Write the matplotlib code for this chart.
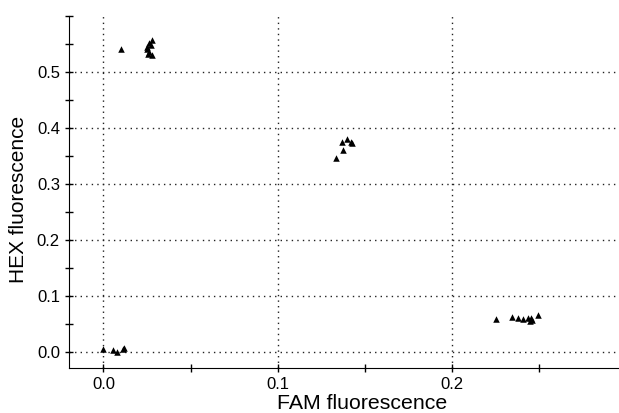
import matplotlib
matplotlib.use("Agg")
import matplotlib.pyplot as plt
from matplotlib.ticker import MultipleLocator

plt.rcParams['font.family'] = ['Liberation Sans', 'DejaVu Sans']

fam = [0.0103, 0.028, 0.026, 0.025, 0.0247, 0.0264, 0.0276, 0.0258, 0.0272,
       0.1397, 0.142, 0.1425, 0.1368, 0.1374, 0.1333,
       0.2253, 0.2345, 0.238, 0.241, 0.2437, 0.2454, 0.2448, 0.246, 0.2494,
       0.0, 0.0057, 0.0075, 0.011, 0.0115]
hex_ = [0.541, 0.557, 0.551, 0.545, 0.541, 0.536, 0.530, 0.533, 0.548,
        0.380, 0.375, 0.373, 0.375, 0.361, 0.346,
        0.059, 0.0625, 0.061, 0.059, 0.061, 0.061, 0.055, 0.057, 0.066,
        0.005, 0.0036, 0.0, 0.005, 0.007]

fig = plt.figure(figsize=(6.19, 4.13), dpi=100)
ax = fig.add_axes([69/619, 45/413, 1 - 69/619, (397 - 45)/413])
ax.scatter(fam, hex_, marker='^', s=22, color='black', zorder=3, linewidths=0)
ax.set_xlim(-0.0198, 0.296)
ax.set_ylim(-0.0285, 0.6)
ax.xaxis.set_major_locator(MultipleLocator(0.1))
ax.xaxis.set_minor_locator(MultipleLocator(0.05))
ax.yaxis.set_major_locator(MultipleLocator(0.1))
ax.yaxis.set_minor_locator(MultipleLocator(0.05))
ax.set_xticks([0.0, 0.1, 0.2])
ax.set_xticklabels(['0.0', '0.1', '0.2'])
ax.set_yticks([0.0, 0.1, 0.2, 0.3, 0.4, 0.5])
ax.set_yticklabels(['0.0', '0.1', '0.2', '0.3', '0.4', '0.5'])
ax.grid(True, which='major', linestyle=(0, (1, 3)), color='#222222', linewidth=1)
ax.tick_params(which='both', direction='inout', length=6, width=1, labelsize=12)
ax.spines['top'].set_visible(False)
ax.spines['right'].set_visible(False)
ax.set_xlabel('FAM fluorescence', fontsize=15.3)
ax.set_ylabel('HEX fluorescence', fontsize=15)
ax.xaxis.set_label_coords(0.533, -0.075)
ax.yaxis.set_label_coords(-0.075, 0.48)
fig.savefig('out.png', dpi=100)
